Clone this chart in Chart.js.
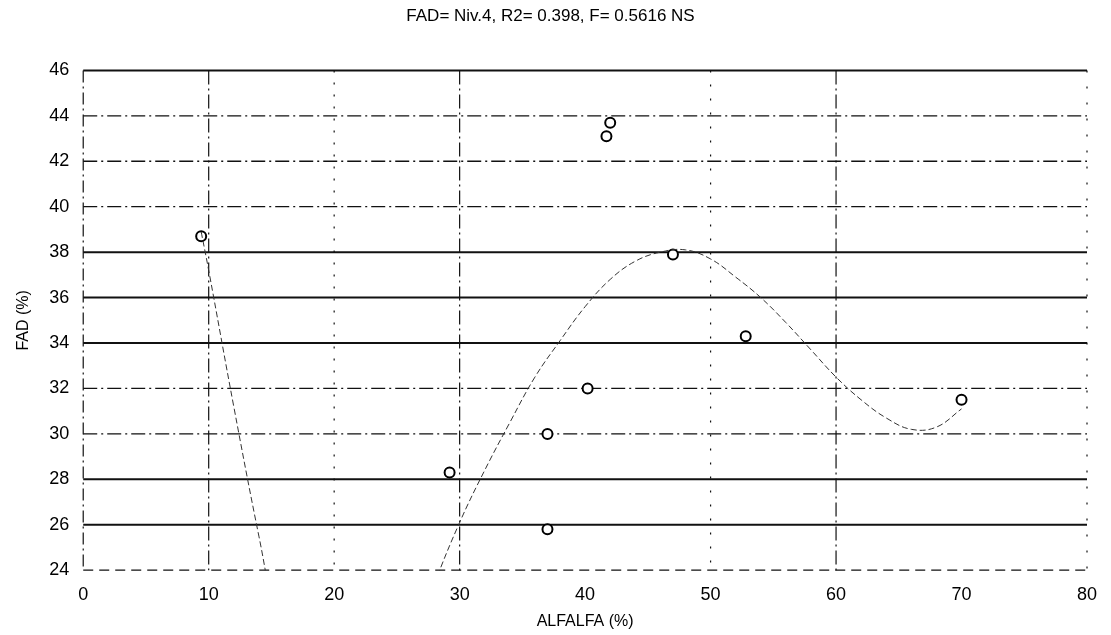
<!DOCTYPE html>
<html>
<head>
<meta charset="utf-8">
<script src="https://cdn.jsdelivr.net/npm/chart.js@4/dist/chart.umd.min.js"></script>
<style>
  html, body { margin: 0; padding: 0; background: #fff; }
  #wrap { width: 1111px; height: 635px; }
</style>
</head>
<body>
<div id="wrap"><canvas id="fad"></canvas></div>
<script>
// observed points
const alfalfa = [9.4, 29.2, 37, 37, 40.2, 41.7, 42, 47, 52.8, 70];
const fad = [38.7, 28.3, 25.8, 30.0, 32.0, 43.1, 43.7, 37.9, 34.3, 31.5];

// fitted curve (parts below 24 are clipped)
const curveX = [9.4, 10, 12, 14, 16, 18, 20, 22, 24, 26, 28, 30, 32, 34, 36, 38, 40, 42, 44, 46, 48, 50, 52, 54, 56, 58, 60, 62, 64, 66, 68, 70];
const curveY = [38.9, 37.2, 31.2, 25.5, 20.3, 18.2, 16.8, 16.5, 17.8, 20.2, 23.4, 26.1, 28.4, 30.5, 32.5, 34.1, 35.6, 36.8, 37.6, 38.0, 38.1, 37.7, 36.9, 36.0, 34.9, 33.7, 32.5, 31.5, 30.7, 30.2, 30.3, 31.1];

const yTicks = [24, 26, 28, 30, 32, 34, 36, 38, 40, 42, 44, 46];
const xTicks = [0, 10, 20, 30, 40, 50, 60, 70, 80];

const dashSolid = [];
const dashDot = [14, 4, 2, 4];
const dashLong = [10, 6];
const hLineStyle = {
  24: dashLong, 26: dashSolid, 28: dashSolid, 30: dashDot, 32: dashDot, 34: dashSolid,
  36: dashSolid, 38: dashSolid, 40: dashDot, 42: dashDot, 44: dashDot, 46: dashSolid
};
const vLineStyle = { 10: dashDot, 20: [2, 10], 30: dashDot, 50: [2, 12], 60: dashDot, 80: [2, 14] };

const gridPlugin = {
  id: "oldGrid",
  beforeDatasetsDraw(chart) {
    const ctx = chart.ctx;
    const xs = chart.scales.x;
    const ys = chart.scales.y;
    const area = chart.chartArea;
    ctx.save();
    ctx.strokeStyle = "#111";
    yTicks.forEach(v => {
      const py = ys.getPixelForValue(v);
      const dash = hLineStyle[v];
      ctx.setLineDash(dash);
      ctx.lineWidth = dash.length ? 1.3 : 2;
      ctx.beginPath();
      ctx.moveTo(area.left, py);
      ctx.lineTo(area.right, py);
      ctx.stroke();
    });
    Object.keys(vLineStyle).forEach(k => {
      const px = xs.getPixelForValue(Number(k));
      ctx.setLineDash(vLineStyle[k]);
      ctx.lineWidth = 1.2;
      ctx.beginPath();
      ctx.moveTo(px, area.top);
      ctx.lineTo(px, area.bottom);
      ctx.stroke();
    });
    // left axis
    ctx.setLineDash([12, 4, 2, 4]);
    ctx.lineWidth = 1.2;
    ctx.beginPath();
    ctx.moveTo(area.left, area.top);
    ctx.lineTo(area.left, area.bottom);
    ctx.stroke();
    ctx.restore();
  }
};

window.addEventListener("DOMContentLoaded", function() {
  const curve = curveX.map((x, i) => ({ x: x, y: curveY[i] }));
  const obs = alfalfa.map((x, i) => ({ x: x, y: fad[i] }));

  new Chart(document.getElementById("fad").getContext("2d"), {
    type: "scatter",
    data: {
      datasets: [{
        type: "line",
        data: curve,
        borderColor: "#333",
        borderWidth: 1,
        borderDash: [6, 3],
        pointRadius: 0,
        tension: 0.4,
        fill: false,
      }, {
        data: obs,
        pointStyle: "circle",
        pointRadius: 5,
        pointBorderWidth: 2,
        pointBorderColor: "#000",
        pointBackgroundColor: "#fff",
      }],
    },
    options: {
      animation: false,
      responsive: true,
      maintainAspectRatio: false,
      events: [],
      layout: { padding: { top: 4, right: 24, left: 14, bottom: 4 } },
      plugins: {
        legend: { display: false },
        tooltip: { enabled: false },
        title: {
          display: true,
          text: "FAD= Niv.4, R2= 0.398, F= 0.5616 NS",
          color: "#000",
          font: { family: "Liberation Sans", size: 17, weight: "normal" },
          padding: { top: 2, bottom: 44 },
        },
      },
      scales: {
        x: {
          type: "linear",
          min: 0,
          max: 80,
          afterBuildTicks: axis => { axis.ticks = xTicks.map(v => ({ value: v })); },
          grid: { display: false },
          border: { display: false },
          ticks: { color: "#000", font: { family: "Liberation Sans", size: 18 }, padding: 6 },
          title: {
            display: true,
            text: "ALFALFA (%)",
            color: "#000",
            font: { family: "Liberation Sans", size: 16 },
            padding: { top: 0, bottom: 0 },
          },
        },
        y: {
          min: 24,
          max: 46,
          afterBuildTicks: axis => { axis.ticks = yTicks.map(v => ({ value: v })); },
          grid: { display: false },
          border: { display: false },
          ticks: { color: "#000", font: { family: "Liberation Sans", size: 18 }, padding: 6 },
          title: {
            display: true,
            text: "FAD (%)",
            color: "#000",
            font: { family: "Liberation Sans", size: 16 },
            padding: { top: 0, bottom: 10 },
          },
        },
      },
    },
    plugins: [gridPlugin],
  });
});
</script>
</body>
</html>
